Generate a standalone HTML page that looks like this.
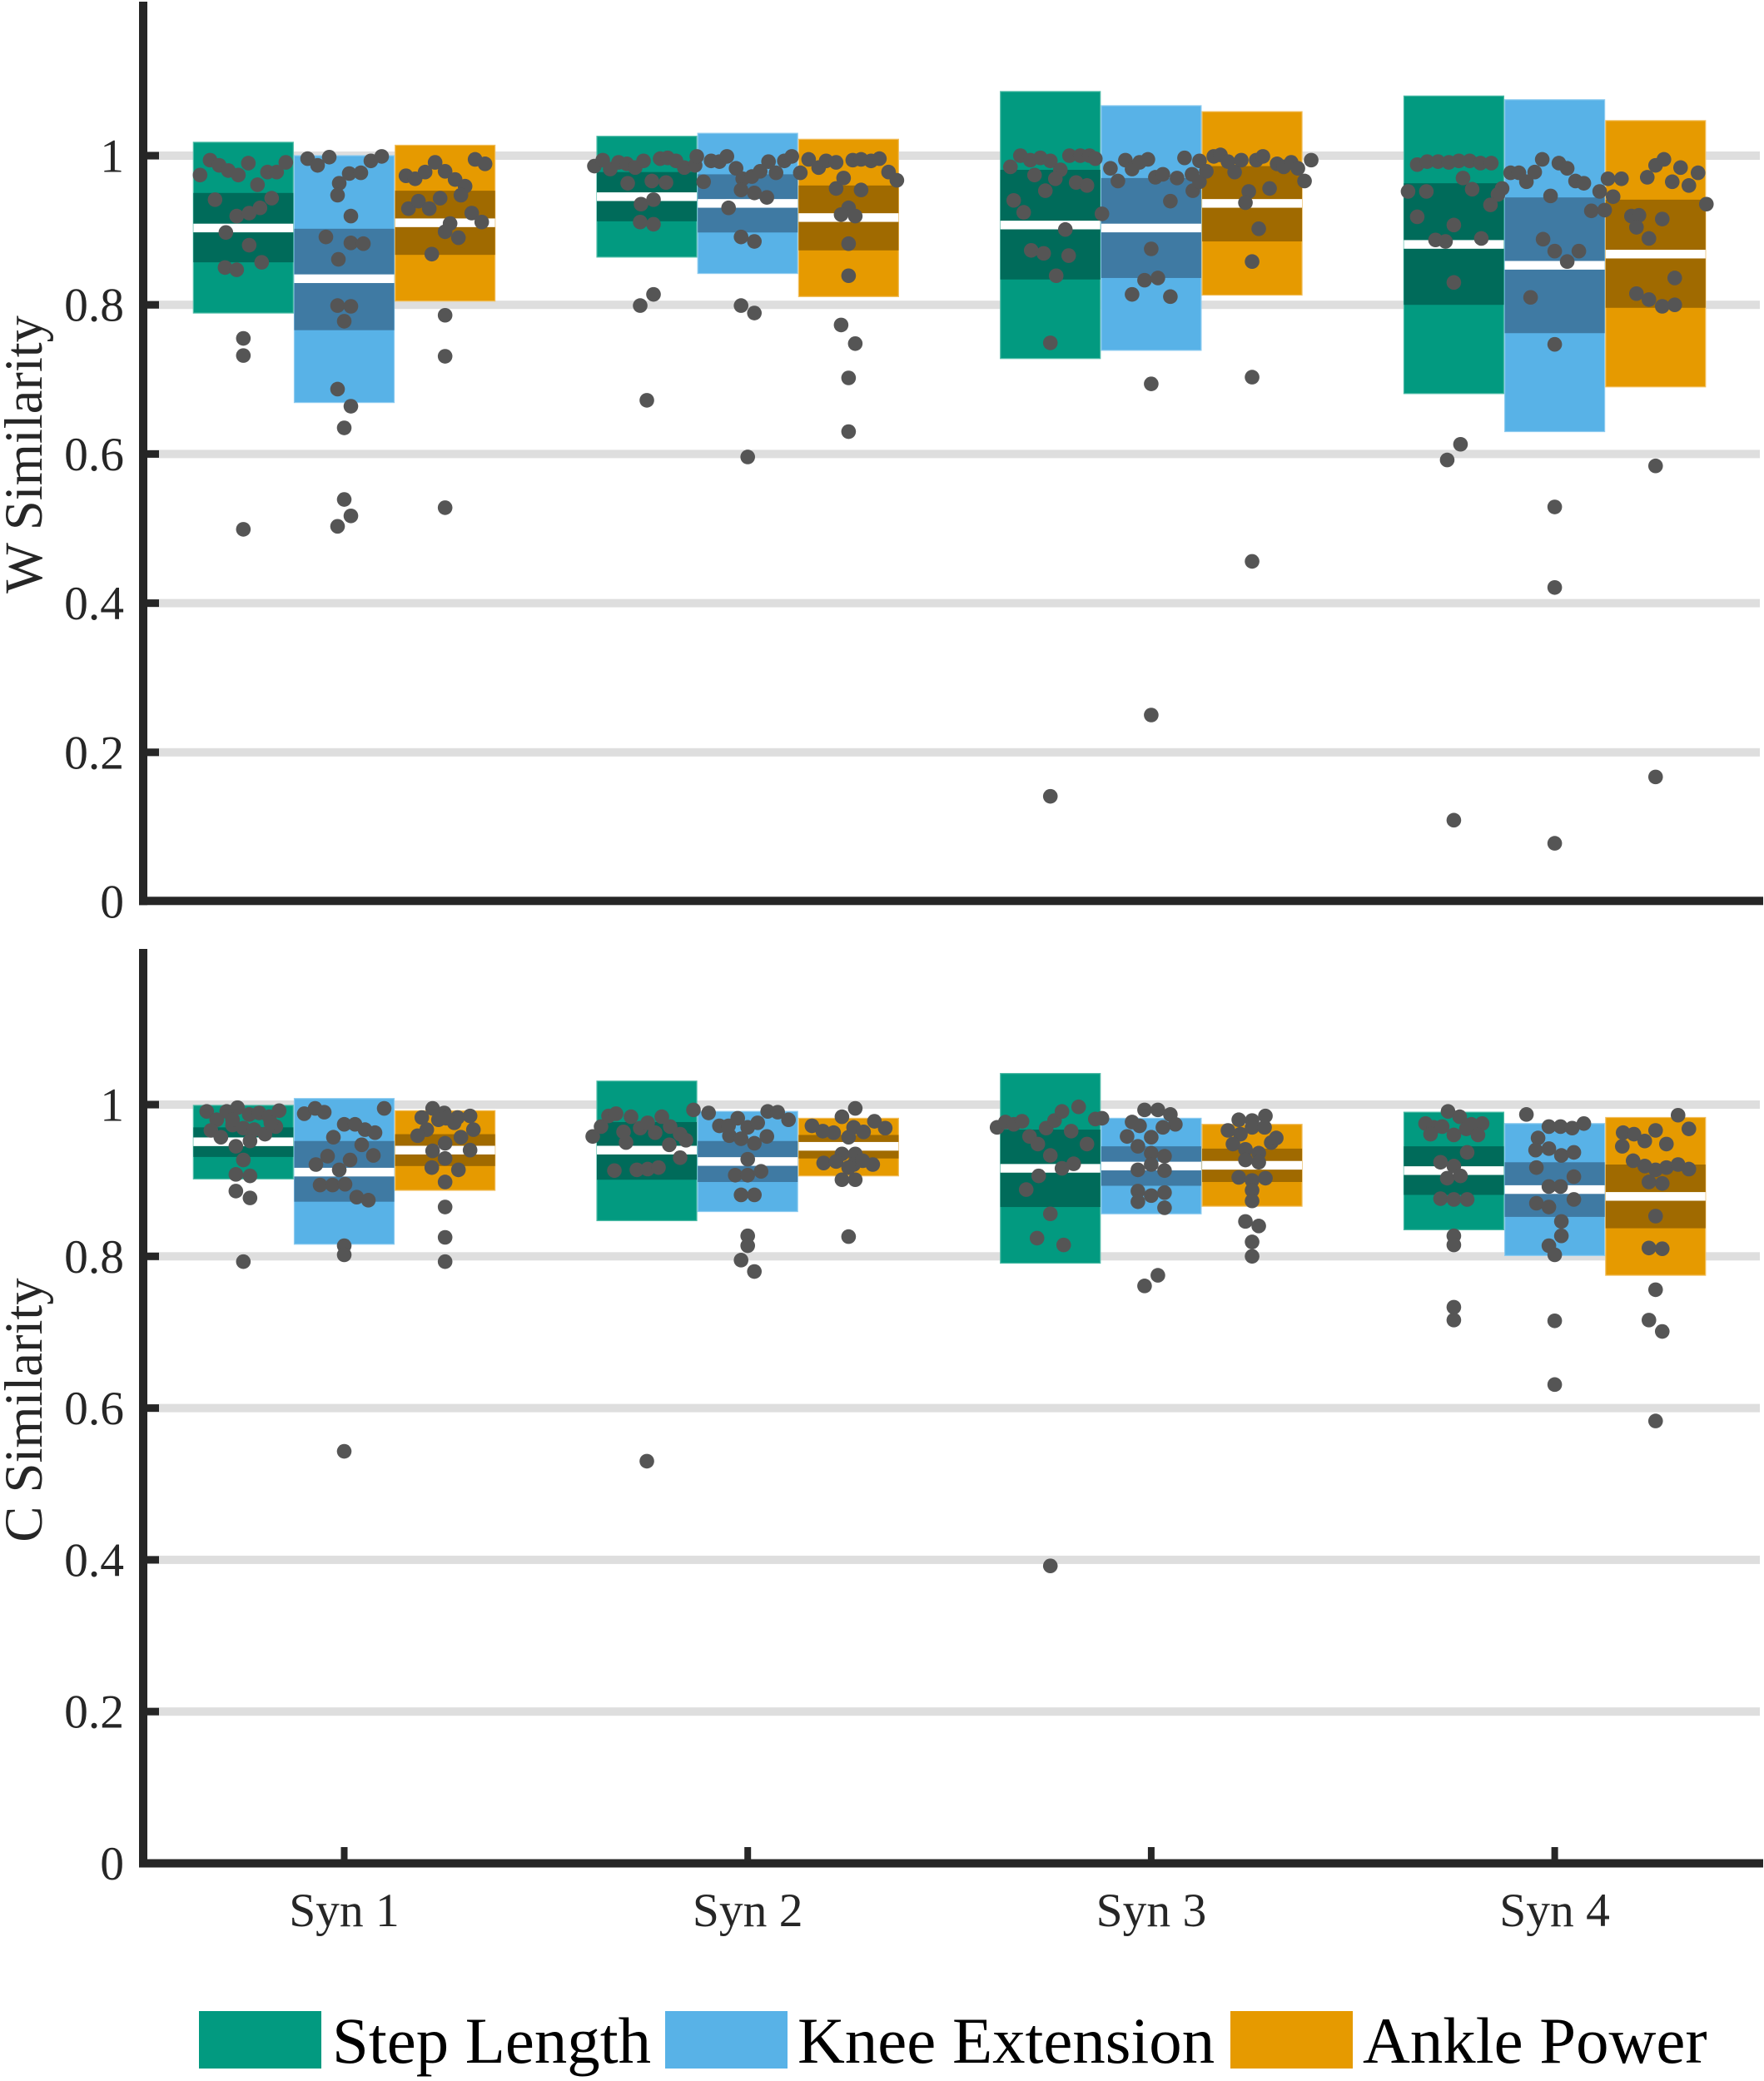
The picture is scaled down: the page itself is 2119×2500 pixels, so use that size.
<!DOCTYPE html>
<html><head><meta charset="utf-8"><title>W and C Similarity</title>
<style>html,body{margin:0;padding:0;background:#fff}svg{display:block}text{font-family:"Liberation Serif",serif}</style>
</head><body>
<svg id="chart" xmlns="http://www.w3.org/2000/svg" width="2119" height="2500" viewBox="0 0 2119 2500"></svg>
<script>
const categories = ['Syn 1','Syn 2','Syn 3','Syn 4'];
const seriesNames = ['Step Length','Knee Extension','Ankle Power'];
const tickValues = [0,0.2,0.4,0.6,0.8,1];
const tickLabels = ['0','0.2','0.4','0.6','0.8','1'];

// Box statistics: [category][series]
const wTop = [[1.018,1.000,1.014],[1.026,1.030,1.022],[1.086,1.067,1.059],[1.080,1.075,1.047]];
const wInnerTop = [[.950,.902,.953],[.978,.975,.960],[.981,.970,.986],[.963,.944,.941]];
const wMean = [[.903,.835,.910],[.945,.936,.917],[.907,.903,.936],[.881,.853,.868]];
const wInnerBottom = [[.857,.766,.867],[.912,.897,.873],[.834,.836,.885],[.800,.762,.796]];
const wBottom = [[.789,.669,.805],[.864,.842,.811],[.728,.739,.813],[.681,.630,.690]];

const cTop = [[.999,1.008,.992],[1.031,.991,.982],[1.041,.982,.974],[.990,.975,.983]];
const cInnerTop = [[.970,.952,.961],[.977,.952,.960],[.967,.945,.942],[.945,.924,.921]];
const cMean = [[.951,.911,.940],[.940,.925,.945],[.916,.919,.920],[.913,.888,.879]];
const cInnerBottom = [[.931,.872,.919],[.901,.898,.929],[.865,.893,.898],[.881,.852,.837]];
const cBottom = [[.902,.816,.887],[.847,.859,.906],[.791,.856,.866],[.835,.801,.775]];

// Individual subject values: [category][series][subject]
const wValues = [
[[.974,.994,.987,.980,.974,.990,.961,.978,.978,.991,.941,.919,.923,.930,.943,.897,.880,.850,.847,.857,.755,.732,.499],
 [.996,.987,.998,.993,.999,.976,.977,.963,.947,.919,.891,.883,.882,.861,.799,.798,.778,.687,.664,.635,.539,.517,.503],
 [.973,.969,.978,.991,.979,.968,.959,.947,.995,.989,.929,.939,.929,.943,.923,.911,.909,.898,.890,.868,.786,.731,.528]],
[[.986,.994,.982,.991,.989,.984,.993,.996,.997,.993,.984,.987,.999,.963,.966,.964,.935,.941,.911,.908,.814,.799,.672],
 [.965,.993,.992,.999,.983,.969,.972,.979,.992,.977,.993,.999,.954,.950,.944,.930,.891,.885,.799,.789,.596],
 [.977,.995,.984,.993,.991,.994,.995,.993,.996,.978,.967,.956,.954,.970,.930,.921,.919,.882,.839,.773,.748,.702,.630]],
[[.985,1.000,.994,.997,.993,.981,1.000,1.000,1.000,.996,.974,.969,.964,.960,.953,.940,.924,.922,.901,.873,.869,.866,.839,.749,.141],
 [.983,.966,.994,.982,.991,.995,.971,.975,.939,.970,.997,.975,.953,.965,.993,.875,.833,.836,.814,.811,.694,.250],
 [.979,.999,1.001,.992,.978,.994,.994,.999,.989,.985,.991,.983,.966,.994,.952,.956,.937,.902,.858,.703,.456]],
[[.988,.992,.992,.991,.993,.993,.990,.990,.970,.955,.952,.952,.956,.948,.934,.918,.907,.887,.885,.889,.830,.613,.592,.109],
 [.977,.977,.965,.978,.995,.990,.983,.966,.963,.952,.969,.946,.926,.927,.888,.872,.872,.858,.810,.747,.529,.421,.078],
 [.945,.969,.971,.987,.995,.965,.984,.960,.977,.935,.919,.920,.904,.915,.889,.836,.815,.807,.798,.800,.584,.167]]
];
const cValues = [
[[.991,.980,.991,.996,.987,.989,.984,.992,.966,.957,.973,.969,.967,.961,.971,.945,.952,.927,.908,.906,.886,.877,.793,.980,.976],
 [.988,.995,.990,.995,.974,.974,.967,.963,.957,.947,.932,.933,.927,.921,.914,.894,.894,.895,.878,.874,.814,.802,.543],
 [.983,.995,.989,.983,.985,.980,.976,.967,.967,.959,.957,.949,.940,.939,.929,.917,.914,.898,.865,.825,.793,.982]],
[[.958,.971,.985,.988,.984,.984,.993,.964,.969,.976,.963,.950,.947,.971,.961,.953,.930,.913,.914,.915,.917,.530],
 [.989,.972,.959,.982,.970,.976,.955,.949,.958,.991,.990,.980,.972,.928,.907,.907,.912,.881,.881,.827,.814,.795,.780],
 [.972,.965,.963,.984,.995,.970,.964,.978,.969,.957,.935,.935,.921,.923,.925,.921,.926,.917,.901,.901,.826]],
[[.970,.977,.974,.978,.958,.948,.969,.979,.991,.965,.997,.948,.981,.933,.916,.922,.906,.888,.856,.824,.815,.392,.982],
 [.993,.993,.987,.974,.977,.972,.970,.958,.957,.945,.936,.932,.921,.914,.913,.886,.880,.884,.872,.864,.775,.761],
 [.980,.979,.985,.966,.961,.970,.970,.948,.941,.950,.956,.936,.927,.924,.904,.900,.903,.887,.873,.846,.840,.819,.800]],
[[.991,.984,.975,.970,.971,.961,.960,.968,.974,.975,.960,.937,.924,.919,.903,.906,.876,.875,.875,.827,.815,.733,.716],
 [.987,.971,.971,.969,.975,.956,.940,.942,.933,.937,.917,.905,.892,.892,.875,.870,.865,.846,.827,.814,.802,.715,.631],
 [.986,.968,.963,.961,.952,.966,.948,.945,.926,.919,.914,.917,.921,.915,.898,.896,.853,.811,.810,.756,.716,.701,.583]]
];
// Beeswarm spread for each subject, same nesting as the values
const wSwarm = [
[[-52,-40,-29,-18,-6,6,17,29,40,51,-34,-8,7,20,34,-21,7,-22,-8,22,0,0,0],
 [-44,-32,-18,32,45,6,20,-6,-8,8,-22,8,23,-7,-8,8,0,-8,8,0,0,8,-8],
 [-47,-36,-24,-12,0,12,24,19,36,48,-44,-32,-19,-6,32,44,6,0,16,-16,0,0,0]],
[[-63,-53,-44,-34,-24,-14,-4,16,25,35,45,58,60,-23,6,23,-7,8,-8,8,8,-8,0],
 [-53,-44,-34,-25,-14,-6,5,15,25,34,44,53,-8,8,23,-23,-8,8,-8,8,0],
 [-58,-48,-36,-27,-15,5,15,27,37,48,58,-15,15,-6,0,-9,8,0,0,-9,8,0,0]],
[[-48,-36,-24,-12,0,12,23,36,47,54,-19,6,31,44,-6,-44,-32,62,18,-23,-8,22,7,0,0],
 [-49,-40,-31,-23,-14,-4,5,14,23,31,40,49,50,58,58,0,-8,8,-23,23,0,0],
 [-55,-46,-38,-29,-21,-13,5,13,30,38,47,55,63,71,-4,21,-8,8,0,0,0]],
[[-44,-32,-19,-6,6,19,32,45,11,22,-55,-33,58,53,44,-44,0,-22,-10,33,0,8,-8,0],
 [-53,-43,-34,-24,-15,5,15,25,35,54,64,-5,44,60,-14,0,29,15,-29,0,0,0,0],
 [-51,-41,-10,0,10,20,30,40,51,61,-29,-20,-23,8,-8,23,-23,-8,8,23,0,0]]
];
const cSwarm = [
[[-44,-32,-20,-7,7,19,31,43,-39,-27,-13,0,13,26,39,-9,8,0,-9,8,-9,8,0,-13,33],
 [-48,-35,-24,48,0,13,25,37,-13,21,-20,35,7,-34,-6,-29,-14,1,15,29,0,0,0],
 [-28,-15,-1,15,30,-8,11,-22,34,-33,19,0,30,-15,0,-16,16,0,0,0,0,1]],
[[-65,-55,-46,-37,-19,18,56,-28,-8,1,10,-25,27,28,40,47,40,-39,-12,1,14,0],
 [-47,-34,-22,-12,0,12,-8,8,23,24,36,49,-23,0,-15,0,16,-8,8,0,0,-8,8],
 [-44,-31,-18,-8,8,6,18,31,44,0,-8,8,6,-30,-15,29,17,0,-8,8,0]],
[[-64,-54,-44,-34,-25,-15,-5,5,14,25,34,44,54,0,14,28,-14,-29,0,-16,16,0,62],
 [-8,8,23,29,-23,-14,14,-29,0,-16,0,16,0,-16,16,-16,0,16,-16,16,8,-8],
 [-16,0,16,-29,-14,0,15,-23,-8,23,29,8,-8,8,-16,0,16,0,0,-8,8,0,0]],
[[-7,7,-34,-24,-14,-28,0,15,21,34,29,16,-16,0,-8,8,-16,0,16,0,0,0,0],
 [-34,-7,7,21,35,-20,-23,-7,8,23,-22,23,-7,7,23,-22,-7,8,8,-7,0,0,0],
 [27,40,-39,-26,-13,0,13,-40,-27,-13,0,13,27,40,-8,8,0,-8,8,0,-8,8,0]]
];

const NS = 'http://www.w3.org/2000/svg';
const svg = document.getElementById('chart');
const lightColors = ['#029A80','#58B2E7','#E69A00'];
const darkColors = ['#006B5A','#3F7AA3','#A06A00'];
const edgeColors = ['#4DBBA6','#8CCBF0','#F2BE5C'];

function xScale(c){ return 413.5 + c * 484.7; }
const dodge = 0.25, boxHalf = 60, gapHalf = 5.2;

function make(tag, attrs, parent, text){
  const el = document.createElementNS(NS, tag);
  for (const k in attrs) el.setAttribute(k, attrs[k]);
  if (text !== undefined) el.textContent = text;
  parent.appendChild(el);
  return el;
}

function drawPanel(p){
  const y = v => p.y0 - v * p.span;
  const g = make('g', {}, svg);
  
  

  tickValues.forEach((t, i) => {
    if (t > 0) {
      const grid = make('rect', {x:177, y:y(t)-5, width:1937, height:10, fill:'#DEDEDE'}, g);
      
      
    }
  });

  categories.forEach((cat, ci) => {
    seriesNames.forEach((name, si) => {
      const cx = xScale(ci + (si - 1) * dodge);
      const box = make('rect', {x:cx-boxHalf, y:y(p.top[ci][si]), width:boxHalf*2,
        height:y(p.bottom[ci][si])-y(p.top[ci][si]), fill:lightColors[si], stroke:edgeColors[si], 'stroke-width':1.2}, g);
      
      
      const inner = make('rect', {x:cx-boxHalf, y:y(p.innerTop[ci][si]), width:boxHalf*2,
        height:y(p.innerBottom[ci][si])-y(p.innerTop[ci][si]), fill:darkColors[si]}, g);
      
      
      const mean = make('rect', {x:cx-boxHalf, y:y(p.mean[ci][si])-gapHalf, width:boxHalf*2, height:gapHalf*2, fill:'#FFFFFF'}, g);
      
      
    });
  });

  categories.forEach((cat, ci) => {
    seriesNames.forEach((name, si) => {
      const cx = xScale(ci + (si - 1) * dodge);
      p.values[ci][si].forEach((v, i) => {
        const dot = make('circle', {cx:cx + (p.swarm[ci][si][i] || 0), cy:y(v), r:8.8, fill:'#555555'}, g);
        
        
      });
    });
  });

  const yAxis = make('rect', {x:167, y:p.axisTop, width:10, height:p.axisY+5-p.axisTop, fill:'#262626'}, g);
  
  
  const xAxis = make('rect', {x:167, y:p.axisY-5, width:1951, height:10, fill:'#262626'}, g);
  
  

  tickValues.forEach((t, i) => {
    if (t > 0) {
      const tick = make('rect', {x:177, y:y(t)-4.5, width:14, height:9, fill:'#262626'}, g);
      
      
    }
    const label = make('text', {x:149, y:y(t)+19.5, 'text-anchor':'end', 'font-size':57.5, fill:'#262626'}, g, tickLabels[i]);
    
    
  });

  const title = make('text', {transform:'translate(50,' + p.titleY + ') rotate(-90)', 'text-anchor':'middle', 'font-size':64.5, fill:'#262626'}, g, p.title);
  
  
}

drawPanel({id:'w-similarity', y0:1083, span:896, axisY:1082.3, axisTop:2, titleY:546, title:'W Similarity',
  top:wTop, innerTop:wInnerTop, mean:wMean, innerBottom:wInnerBottom, bottom:wBottom, values:wValues, swarm:wSwarm});
drawPanel({id:'c-similarity', y0:2238.5, span:911.5, axisY:2238.5, axisTop:1140, titleY:1694, title:'C Similarity',
  top:cTop, innerTop:cInnerTop, mean:cMean, innerBottom:cInnerBottom, bottom:cBottom, values:cValues, swarm:cSwarm});

categories.forEach((cat, ci) => {
  const tick = make('rect', {x:xScale(ci)-4, y:2219, width:8, height:15, fill:'#262626'}, svg);
  
  
  const label = make('text', {x:xScale(ci), y:2314, 'text-anchor':'middle', 'font-size':57.5, fill:'#262626'}, svg, cat);
  
  
});

const legendSwatchX = [239, 799, 1478];
const legendTextX = [399, 958, 1637];
const legend = make('g', {}, svg);


seriesNames.forEach((name, si) => {
  const sw = make('rect', {x:legendSwatchX[si], y:2416, width:147, height:69, fill:lightColors[si]}, legend);
  
  
  const t = make('text', {x:legendTextX[si], y:2478, 'font-size':78.8, fill:'#000000'}, legend, name);
  
  
});
</script>
</body></html>
